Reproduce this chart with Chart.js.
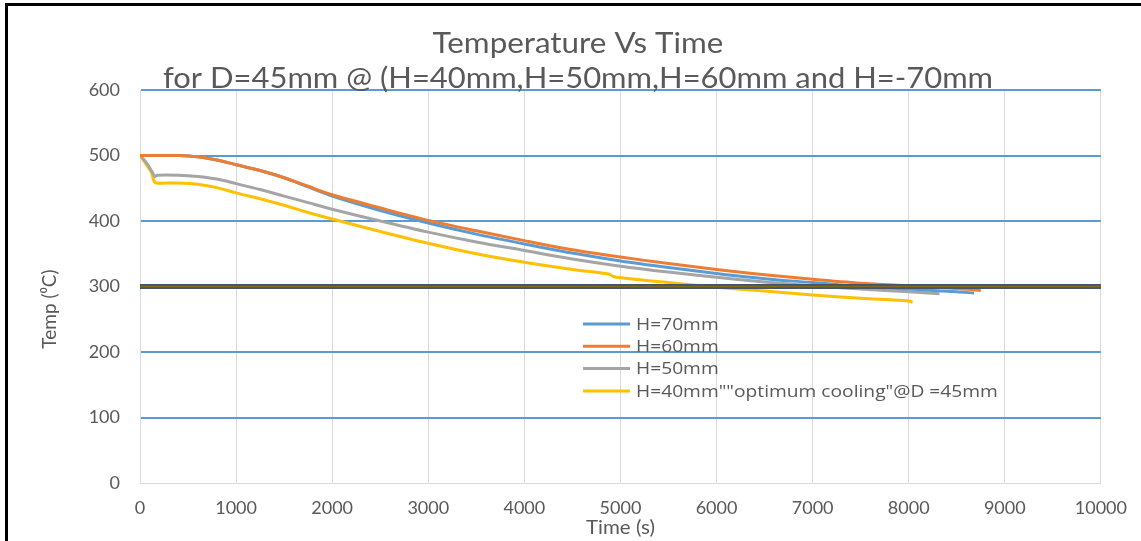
<!DOCTYPE html>
<html>
<head>
<meta charset="utf-8">
<script src="https://cdn.jsdelivr.net/npm/chart.js@4.4.1/dist/chart.umd.min.js"></script>
<style>
  html, body { margin: 0; padding: 0; background: #fff; }
  #wrap { position: relative; width: 1141px; height: 541px; }
</style>
</head>
<body>
<div id="wrap"><canvas id="grafico" width="1141" height="541"></canvas></div>
<script>
// Dados (tempo em s, temperatura em °C)
const TITULO_1 = "Temperature Vs Time";
const TITULO_2 = "for D=45mm @ (H=40mm,H=50mm,H=60mm and H=-70mm";
const ROTULO_X = "Time (s)";
const ROTULO_Y = "Temp (\u2070C)";

const X_TICKS = [0, 1000, 2000, 3000, 4000, 5000, 6000, 7000, 8000, 9000, 10000];
const Y_TICKS = [0, 100, 200, 300, 400, 500, 600];

const tempoH70 = [0, 200, 400, 600, 800, 1000, 1250, 1500, 1750, 2000, 2500, 3000, 3500, 4000, 4500, 5000, 5500, 6000, 6500, 7000, 7500, 8000, 8500, 8680];
const tempH70  = [500, 500, 500, 498, 493, 486, 477, 466, 452, 438, 416, 397, 380, 365, 351, 339, 329, 320, 312, 306, 300, 296, 292, 290];

const tempoH60 = [0, 200, 400, 600, 800, 1000, 1250, 1500, 1750, 2000, 2500, 3000, 3500, 4000, 4500, 5000, 5500, 6000, 6500, 7000, 7500, 8000, 8500, 8750];
const tempH60  = [500, 500, 500, 498, 493, 486, 477, 466, 453, 440, 420, 401, 385, 370, 356, 345, 335, 326, 318, 311, 305, 301, 297, 294];

const tempoH50 = [0, 40, 90, 130, 155, 180, 400, 600, 800, 1000, 1250, 1500, 1750, 2000, 2500, 3000, 3500, 4000, 4500, 5000, 5500, 6000, 6500, 7000, 7500, 8000, 8320];
const tempH50  = [500, 494, 484, 474, 468, 470, 470, 468, 464, 457, 448, 438, 428, 418, 400, 383, 368, 355, 342, 331, 322, 314, 307, 301, 296, 292, 289];

const tempoH40 = [0, 30, 80, 120, 145, 170, 400, 600, 800, 1000, 1250, 1500, 1750, 2000, 2500, 3000, 3500, 4000, 4500, 4880, 4930, 5500, 6000, 6500, 7000, 7500, 8000, 8040];
const tempH40  = [500, 494, 483, 474, 461, 458, 458, 456, 451, 443, 434, 424, 413, 403, 384, 366, 350, 337, 326, 319, 315, 306, 299, 293, 287, 282, 278, 276];

const tempoRef = [0, 10000];
const tempRef  = [300, 300];

const SERIES = [
  { nome: "H=70mm", tempo: tempoH70, temp: tempH70, cor: "#5b9bd5" },
  { nome: "H=60mm", tempo: tempoH60, temp: tempH60, cor: "#ed7d31" },
  { nome: "H=50mm", tempo: tempoH50, temp: tempH50, cor: "#a5a5a5" },
  { nome: "H=40mm\"\"optimum cooling\"@D =45mm", tempo: tempoH40, temp: tempH40, cor: "#ffc000" },
];

const COR_TEXTO = "#595959";
const FONTE = "Lato, 'Open Sans', sans-serif";

function pontos(tempo, temp) {
  return tempo.map((t, i) => ({ x: t, y: temp[i] }));
}

function linha(label, data, cor, largura) {
  return {
    label, data, borderColor: cor, backgroundColor: cor,
    borderWidth: largura, pointRadius: 0, tension: 0.3, fill: false,
  };
}

// texto com leve esticamento horizontal (o original parece esticado)
function texto(ctx, txt, x, y, escalaX) {
  ctx.save();
  ctx.translate(x, y);
  ctx.scale(escalaX, 1);
  ctx.fillText(txt, 0, 0);
  ctx.restore();
}

// ordem: primeiro índice fica por cima
const datasets = [
  linha("ref2", pontos(tempoRef, tempRef), "#7f6a1e", 1.5),
  linha("ref1", pontos(tempoRef, tempRef), "#44546a", 5),
  linha(SERIES[1].nome, pontos(SERIES[1].tempo, SERIES[1].temp), SERIES[1].cor, 3),
  linha(SERIES[0].nome, pontos(SERIES[0].tempo, SERIES[0].temp), SERIES[0].cor, 3),
  linha(SERIES[2].nome, pontos(SERIES[2].tempo, SERIES[2].temp), SERIES[2].cor, 3),
  linha(SERIES[3].nome, pontos(SERIES[3].tempo, SERIES[3].temp), SERIES[3].cor, 3),
];

const textos = {
  id: "textos",
  afterDraw(chart) {
    const ctx = chart.ctx;
    const area = chart.chartArea;
    ctx.save();
    ctx.fillStyle = COR_TEXTO;

    // títulos
    ctx.textAlign = "center";
    ctx.textBaseline = "alphabetic";
    ctx.font = "28px " + FONTE;
    texto(ctx, TITULO_1, 578, 53, 1.12);
    texto(ctx, TITULO_2, 578, 88, 1.105);

    // títulos dos eixos
    ctx.font = "19px " + FONTE;
    ctx.textBaseline = "middle";
    texto(ctx, ROTULO_X, (area.left + area.right) / 2, 528, 1.08);
    ctx.save();
    ctx.translate(50, 309);
    ctx.rotate(-Math.PI / 2);
    ctx.fillText(ROTULO_Y, 0, 0);
    ctx.restore();

    // legenda dentro do gráfico
    ctx.font = "17px 'Open Sans', sans-serif";
    ctx.textAlign = "left";
    SERIES.forEach((s, i) => {
      const y = 324 + i * 22.3;
      ctx.strokeStyle = s.cor;
      ctx.lineWidth = 3;
      ctx.beginPath();
      ctx.moveTo(583, y);
      ctx.lineTo(630, y);
      ctx.stroke();
      texto(ctx, s.nome, 636, y + 1, 1.13);
    });

    // moldura preta (topo e esquerda)
    ctx.fillStyle = "#000";
    ctx.fillRect(5, 3, chart.width - 5, 3);
    ctx.fillRect(5, 3, 3, chart.height - 3);
    ctx.restore();
  },
};

new Chart(document.getElementById("grafico"), {
  type: "line",
  data: { datasets },
  options: {
    responsive: false,
    animation: false,
    layout: { padding: { top: 90, right: 39, left: 0, bottom: 0 } },
    plugins: { legend: { display: false }, title: { display: false }, tooltip: { enabled: false } },
    scales: {
      x: {
        type: "linear", min: 0, max: 10000,
        afterFit: (s) => { s.height = 58; },
        afterBuildTicks: (s) => { s.ticks = X_TICKS.map((v) => ({ value: v })); },
        ticks: { color: COR_TEXTO, font: { family: FONTE, size: 18 }, padding: 14, maxRotation: 0, callback: (v) => String(v) },
        grid: { color: "#d9d9d9", lineWidth: 1, drawTicks: false },
        border: { color: "#d9d9d9" },
      },
      y: {
        min: 0, max: 600,
        afterFit: (s) => { s.width = 140; },
        afterBuildTicks: (s) => { s.ticks = Y_TICKS.map((v) => ({ value: v })); },
        ticks: { color: COR_TEXTO, font: { family: FONTE, size: 18 }, padding: 20, callback: (v) => String(v) },
        grid: {
          color: (c) => (c.tick && c.tick.value === 0 ? "#d9d9d9" : "#5b9bd5"),
          lineWidth: (c) => (c.tick && c.tick.value === 0 ? 1 : 2),
          drawTicks: false,
        },
        border: { color: "#d9d9d9" },
      },
    },
  },
  plugins: [textos],
});
</script>
</body>
</html>
